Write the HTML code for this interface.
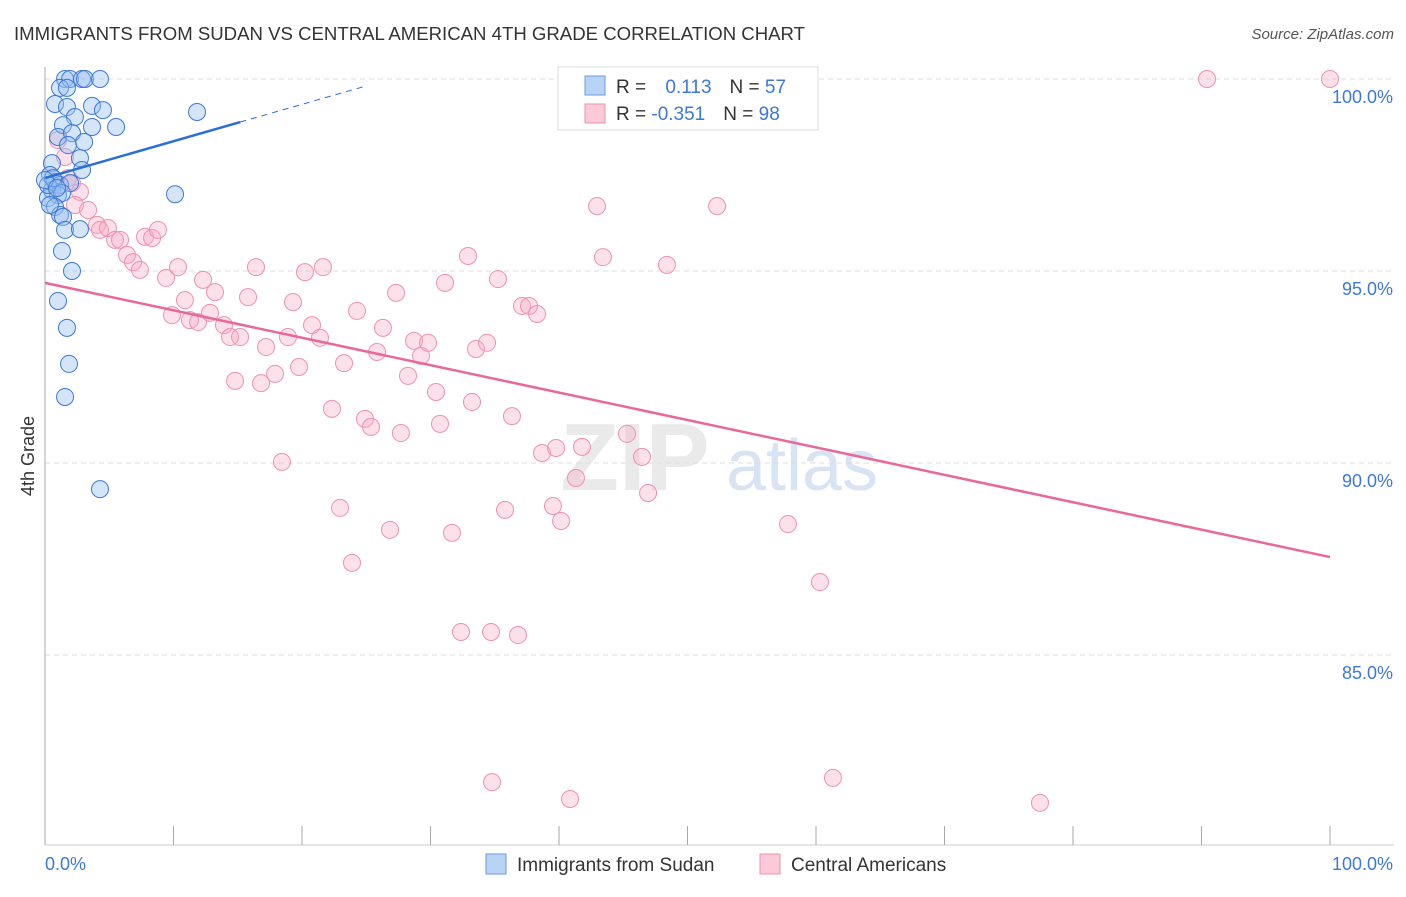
<!DOCTYPE html>
<html><head><meta charset="utf-8"><style>
body{margin:0;background:#fff;font-family:"Liberation Sans",sans-serif;}
svg text{font-family:"Liberation Sans",sans-serif;}
</style></head><body>
<svg id="chart" width="1406" height="892">
<text x="14" y="40" font-size="18" fill="#333" textLength="791" lengthAdjust="spacingAndGlyphs">IMMIGRANTS FROM SUDAN VS CENTRAL AMERICAN 4TH GRADE CORRELATION CHART</text>
<text x="1394" y="39" font-size="15" fill="#555" text-anchor="end" font-style="italic">Source: ZipAtlas.com</text>
<text x="34" y="456" font-size="18" fill="#333" text-anchor="middle" transform="rotate(-90 34 456)">4th Grade</text>
<g><text x="635" y="490" font-size="96" fill="#ddd" text-anchor="middle" font-family="Liberation Serif" font-weight="bold" opacity="0.6">ZIP</text><text x="802" y="490" font-size="72" fill="#c8d8ee" text-anchor="middle" opacity="0.7">atlas</text></g>
<g id="grid"></g><g id="pts"></g><g id="lines"></g>
<g>
<rect x="558" y="67" width="260" height="63" fill="#fff" stroke="#ddd"/>
<rect x="585" y="76" width="20" height="19" fill="#b8d3f3" stroke="#6a9be0"/>
<rect x="585" y="104" width="20" height="19" fill="#fcc9d8" stroke="#ec93b0"/>
<text x="616" y="93" font-size="19" fill="#333">R = <tspan fill="#3c78d8" dx="14">0.113</tspan><tspan dx="18">N = </tspan><tspan fill="#3c78d8">57</tspan></text>
<text x="616" y="120" font-size="19" fill="#333">R = <tspan fill="#3c78d8">-0.351</tspan><tspan dx="18">N = </tspan><tspan fill="#3c78d8">98</tspan></text>
</g>
<g>
<rect x="486" y="854" width="20" height="20" fill="#b8d3f3" stroke="#6a9be0"/>
<text x="517" y="871" font-size="19" fill="#333">Immigrants from Sudan</text>
<rect x="760" y="854" width="20" height="20" fill="#fcc9d8" stroke="#ec93b0"/>
<text x="791" y="871" font-size="19" fill="#333">Central Americans</text>
</g>
</svg>
<script>
const yTicks=[100,95,90,85];
const xTickLabels=["0.0%","100.0%"];
const blueX=[1.56,1.95,2.88,3.11,4.28,1.17,1.71,0.78,1.71,3.66,4.51,2.33,1.4,3.66,5.53,11.83,1.01,2.1,1.79,3.04,2.72,0.54,2.88,0.39,0.78,1.17,1.95,0.54,1.01,0.23,1.32,10.12,0.78,1.17,1.4,1.56,2.72,1.32,2.1,1.01,1.71,1.87,1.56,4.28,0.23,0.62,0,0.93,0.39];
const blueY=[100,100,100,100,100,99.77,99.77,99.35,99.27,99.3,99.19,99.01,98.8,98.75,98.75,99.14,98.49,98.59,98.28,98.36,97.94,97.81,97.63,97.5,97.32,97.24,97.29,97.11,96.98,96.9,97.03,97.0,96.67,96.46,96.41,96.07,96.09,95.52,95.0,94.22,93.52,92.58,91.72,89.32,97.24,97.42,97.37,97.16,96.72];
const pinkX=[90.43,100,1.01,1.56,1.79,2.1,2.72,2.33,3.35,4.05,4.28,4.9,5.45,5.84,6.38,6.85,7.39,7.78,8.33,8.79,9.42,10.35,10.89,9.88,11.28,11.91,12.3,12.84,13.23,13.93,14.4,15.18,14.79,15.8,16.42,16.81,17.2,17.9,18.44,18.91,19.3,19.77,20.23,20.78,21.4,21.63,22.33,22.96,23.27,23.89,24.28,24.9,25.37,25.84,26.3,26.85,27.32,27.7,28.25,28.72,29.26,29.81,30.43,30.74,31.13,31.67,32.37,32.92,33.23,33.54,34.4,34.71,35.25,35.8,36.34,36.81,37.12,37.67,38.29,38.68,39.53,39.77,40.16,40.86,41.32,41.79,42.96,43.42,45.29,46.46,46.93,48.4,52.3,57.82,60.31,61.32,77.43,34.79];
const pinkY=[100,100,98.41,97.97,97.42,97.29,97.06,96.72,96.59,96.2,96.07,96.12,95.81,95.81,95.42,95.23,95.03,95.89,95.86,96.07,94.82,95.1,94.24,93.85,93.72,93.67,94.77,93.91,94.45,93.59,93.28,93.28,92.14,94.32,95.1,92.08,93.02,92.32,90.03,93.28,94.19,92.5,94.97,93.59,93.26,95.1,91.41,88.83,92.6,87.4,93.96,91.15,90.94,92.89,93.52,88.26,94.43,90.78,92.27,93.18,92.79,93.13,91.85,91.02,94.69,88.18,85.6,95.39,91.59,92.97,93.13,85.6,94.79,88.78,91.22,85.52,94.09,94.09,93.88,90.26,88.88,90.39,88.49,81.25,89.61,90.42,96.69,95.36,90.76,90.16,89.22,95.16,96.69,88.41,86.9,81.8,81.15,81.69];
const blueTrend=[97.42,0.096];
const pinkTrend=[94.69,-0.0714];
const NS='http://www.w3.org/2000/svg';
const X=v=>45+v*12.85, Y=v=>79+(100-v)*38.4;
function mk(tag,attrs,parent){const e=document.createElementNS(NS,tag);for(const k in attrs)e.setAttribute(k,attrs[k]);parent.appendChild(e);return e;}
const grid=document.getElementById('grid');
yTicks.forEach(t=>{
 const l=mk('line',{x1:45,x2:1394,y1:Y(t),y2:Y(t),stroke:'#ddd','stroke-dasharray':'5,4'},grid);
 
 
 const tx=mk('text',{x:1393,y:Y(t)+24,'font-size':18,fill:'#3c78d8','text-anchor':'end'},grid);
 tx.textContent=t.toFixed(1)+'%';
 
 
});
mk('line',{x1:45,x2:45,y1:67,y2:845,stroke:'#aaa'},grid);
mk('line',{x1:45,x2:1394,y1:845,y2:845,stroke:'#ccc'},grid);
for(let i=0;i<=10;i++){const t=mk('line',{x1:X(i*10),x2:X(i*10),y1:826,y2:845,stroke:'#aaa'},grid);
 
 }
const xl0=mk('text',{x:45,y:870,'font-size':18,fill:'#3c78d8'},grid);xl0.textContent=xTickLabels[0];


const xl1=mk('text',{x:1393,y:870,'font-size':18,fill:'#3c78d8','text-anchor':'end'},grid);xl1.textContent=xTickLabels[1];


const pts=document.getElementById('pts');
pinkX.forEach((v,i)=>{const c=mk('circle',{cx:X(v),cy:Y(pinkY[i]),r:8.5,fill:'rgba(248,170,195,0.35)',stroke:'#ee91b0','stroke-width':1},pts);
 
 });
blueX.forEach((v,i)=>{const c=mk('circle',{cx:X(v),cy:Y(blueY[i]),r:8.5,fill:'rgba(150,190,240,0.4)',stroke:'#3c78d8','stroke-width':1},pts);
 
 });
const lines=document.getElementById('lines');
const bl=mk('line',{x1:X(0),y1:Y(blueTrend[0]),x2:X(15.2),y2:Y(blueTrend[0]+blueTrend[1]*15.2),stroke:'#2a6fd6','stroke-width':2.5},lines);


const bd=mk('line',{x1:X(15.2),y1:Y(blueTrend[0]+blueTrend[1]*15.2),x2:X(25),y2:Y(blueTrend[0]+blueTrend[1]*25),stroke:'#2a6fd6','stroke-width':1,'stroke-dasharray':'6,5'},lines);


const pl=mk('line',{x1:X(0),y1:Y(pinkTrend[0]),x2:X(100),y2:Y(pinkTrend[0]+pinkTrend[1]*100),stroke:'#e8689a','stroke-width':2.5},lines);


</script>
</body></html>
